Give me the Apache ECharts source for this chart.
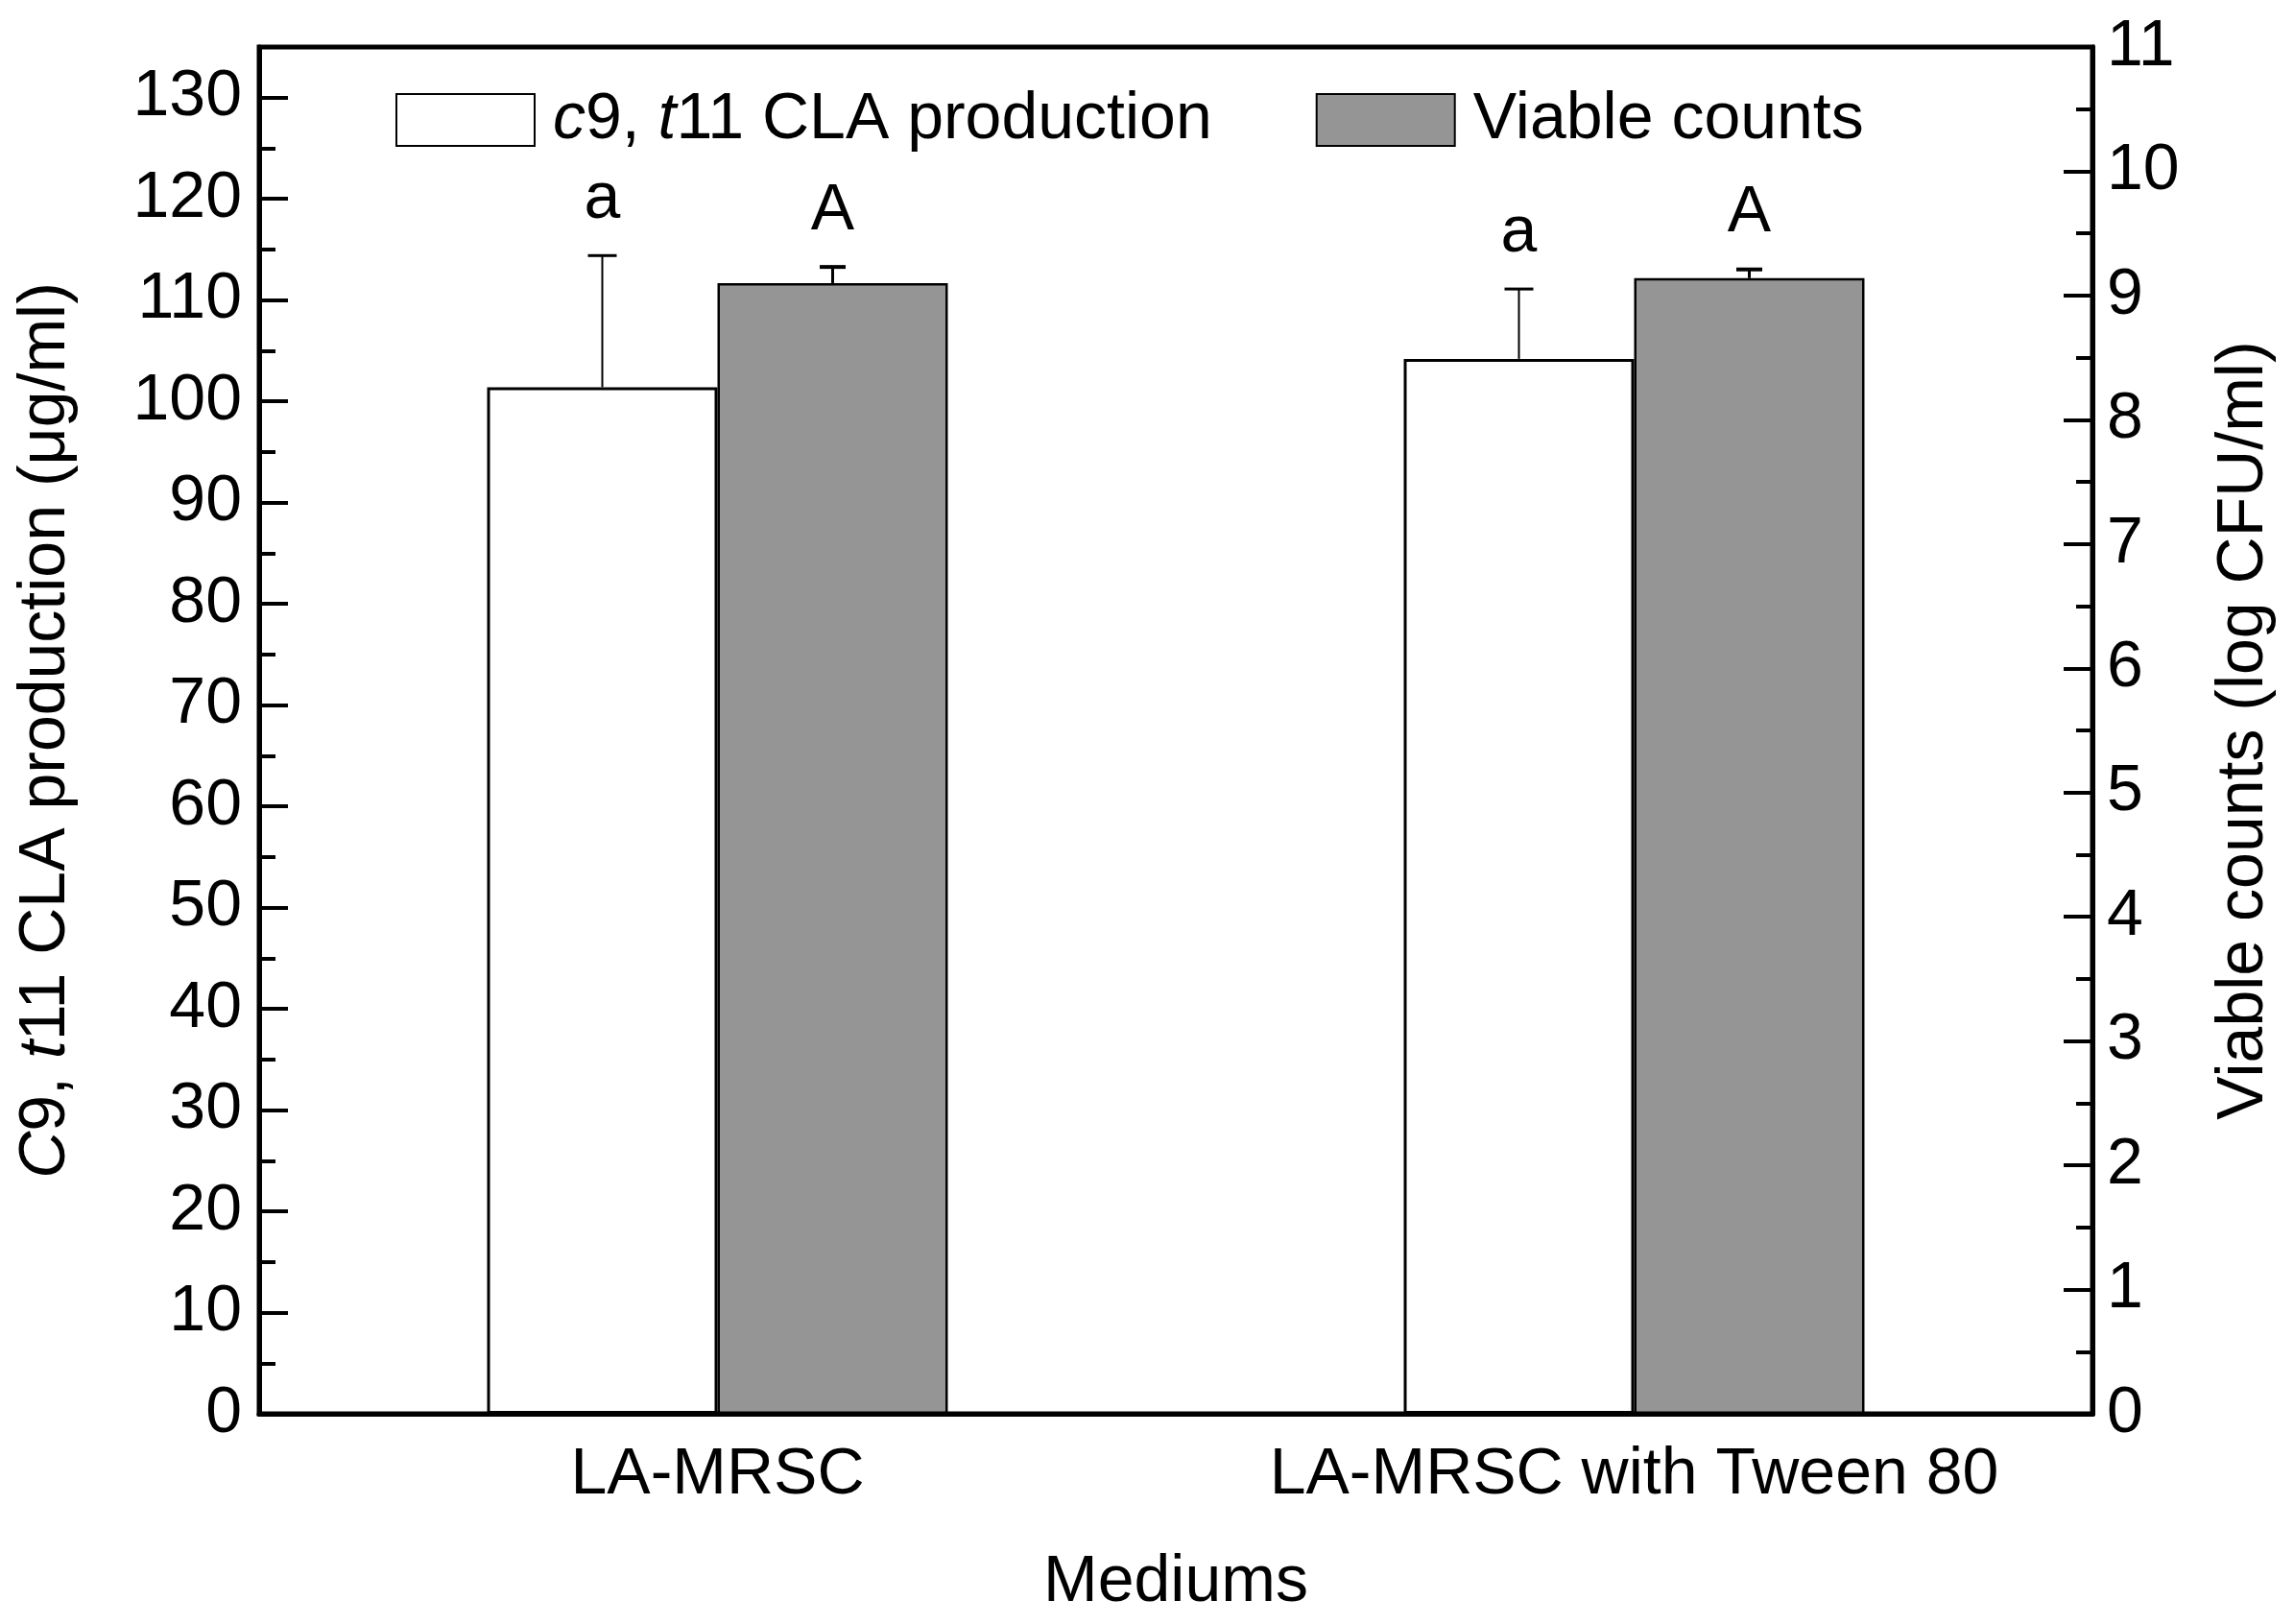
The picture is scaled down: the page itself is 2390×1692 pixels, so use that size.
<!DOCTYPE html>
<html>
<head>
<meta charset="utf-8">
<script src="https://cdn.jsdelivr.net/npm/echarts@6/dist/echarts.min.js"></script>
<style>
html,body{margin:0;padding:0;background:#fff;}
#chart{width:2390px;height:1692px;}
</style>
</head>
<body>
<div id="chart"></div>
<script>
// ---- data ----
const categories = ['LA-MRSC', 'LA-MRSC with Tween 80'];
const claValues = [101.4, 104.2];
const claErrors = [13.0, 6.9];
const viableValues = [9.10, 9.14];
const viableErrors = [0.13, 0.07];
const claLetters = ['a', 'a'];
const viableLetters = ['A', 'A'];
const claTicks = [0, 10, 20, 30, 40, 50, 60, 70, 80, 90, 100, 110, 120, 130];
const viableTicks = [0, 1, 2, 3, 4, 5, 6, 7, 8, 9, 10, 11];

const FONT = 'Liberation Sans, Arial, sans-serif';
const FS = 68;
const BAR_FRAC = 0.2513;

const chart = echarts.init(document.getElementById('chart'), null, {renderer: 'canvas'});

function errorRenderer(values, errors, letters, side, lw, capW) {
  return function (params, api) {
    const i = params.dataIndex;
    const bw = api.size([1, 0])[0];
    const off = side * bw * BAR_FRAC / 2;
    const top = api.coord([i, values[i]]);
    const hi = api.coord([i, values[i] + errors[i]]);
    const x = top[0] + off;
    return {
      type: 'group',
      children: [
        {type: 'line', shape: {x1: x, y1: top[1], x2: x, y2: hi[1]}, style: {stroke: '#000', lineWidth: lw}},
        {type: 'line', shape: {x1: x - capW / 2, y1: hi[1], x2: x + capW / 2, y2: hi[1]}, style: {stroke: '#000', lineWidth: lw + 1}},
        {type: 'text', style: {text: letters[i], x: x, y: hi[1] - 24, align: 'center', verticalAlign: 'bottom',
          fontSize: FS, fontFamily: FONT, fill: '#000'}}
      ]
    };
  };
}

const axisTextStyle = {fontSize: FS, fontFamily: FONT, color: '#000'};

const option = {
  animation: false,
  backgroundColor: '#fff',
  grid: {left: 270, right: 210, top: 49, bottom: 219, show: true, borderColor: '#000', borderWidth: 5, backgroundColor: 'transparent'},
  legend: {
    data: ['c9, t11 CLA production', 'Viable counts'],
    left: 412, top: 91, padding: 0,
    itemWidth: 144, itemHeight: 54, itemGap: 108,
    icon: 'rect',
    formatter: function (name) {
      if (name.indexOf('CLA') >= 0) return '{i|c}9, {i|t}11 CLA production';
      return name;
    },
    textStyle: {fontSize: FS, fontFamily: FONT, color: '#000', padding: [0, 0, 0, 14],
      rich: {i: {fontSize: FS, fontFamily: FONT, color: '#000', fontStyle: 'italic'}}}
  },
  xAxis: {
    type: 'category',
    data: categories,
    axisLine: {lineStyle: {color: '#000', width: 5}},
    axisTick: {show: false},
    axisLabel: Object.assign({margin: 30, interval: 0}, axisTextStyle),
    name: 'Mediums', nameLocation: 'middle', nameGap: 142,
    nameTextStyle: axisTextStyle,
    splitLine: {show: false}
  },
  yAxis: [
    {
      type: 'value', position: 'left', min: 0, max: 135, interval: 10,
      axisLine: {show: true, lineStyle: {color: '#000', width: 5}},
      axisTick: {show: true, inside: true, length: 30, lineStyle: {color: '#000', width: 4}},
      axisLabel: Object.assign({margin: 18, showMaxLabel: false}, axisTextStyle),
      splitLine: {show: false},
      name: '{i|C}9, {i|t}11 CLA production (μg/ml)', nameLocation: 'middle', nameGap: 188, nameRotate: 90,
      nameTextStyle: Object.assign({rich: {i: {fontSize: FS, fontFamily: FONT, color: '#000', fontStyle: 'italic'}}}, axisTextStyle)
    },
    {
      type: 'value', position: 'right', min: 0, max: 11, interval: 1,
      axisLine: {show: true, lineStyle: {color: '#000', width: 5}},
      axisTick: {show: true, inside: true, length: 30, lineStyle: {color: '#000', width: 4}},
      minorTick: {show: true, splitNumber: 2, length: 17, lineStyle: {color: '#000', width: 4}},
      axisLabel: Object.assign({margin: 15}, axisTextStyle),
      splitLine: {show: false},
      name: 'Viable counts (log CFU/ml)', nameLocation: 'middle', nameGap: 124, nameRotate: 90,
      nameTextStyle: axisTextStyle
    },
    {
      type: 'value', position: 'left', min: 0, max: 135, interval: 5,
      axisLine: {show: false},
      axisTick: {show: true, inside: true, length: 17, lineStyle: {color: '#000', width: 4}},
      axisLabel: {show: false},
      splitLine: {show: false}
    }
  ],
  series: [
    {
      name: 'c9, t11 CLA production', type: 'bar', yAxisIndex: 0,
      data: claValues, barWidth: (BAR_FRAC * 100) + '%', barGap: '0%',
      itemStyle: {color: '#ffffff', borderColor: '#000', borderWidth: 3}, z: 2
    },
    {
      name: 'Viable counts', type: 'bar', yAxisIndex: 1,
      data: viableValues, barWidth: (BAR_FRAC * 100) + '%', barGap: '0%',
      itemStyle: {color: '#959595', borderColor: '#000', borderWidth: 2.5}, z: 2
    },
    {
      type: 'custom', yAxisIndex: 0, z: 5,
      data: claValues.map((v, i) => [i, v + claErrors[i]]),
      renderItem: errorRenderer(claValues, claErrors, claLetters, -1, 2, 30)
    },
    {
      type: 'custom', yAxisIndex: 1, z: 5,
      data: viableValues.map((v, i) => [i, v + viableErrors[i]]),
      renderItem: errorRenderer(viableValues, viableErrors, viableLetters, 1, 3, 27)
    }
  ]
};
chart.setOption(option);
</script>
</body>
</html>
